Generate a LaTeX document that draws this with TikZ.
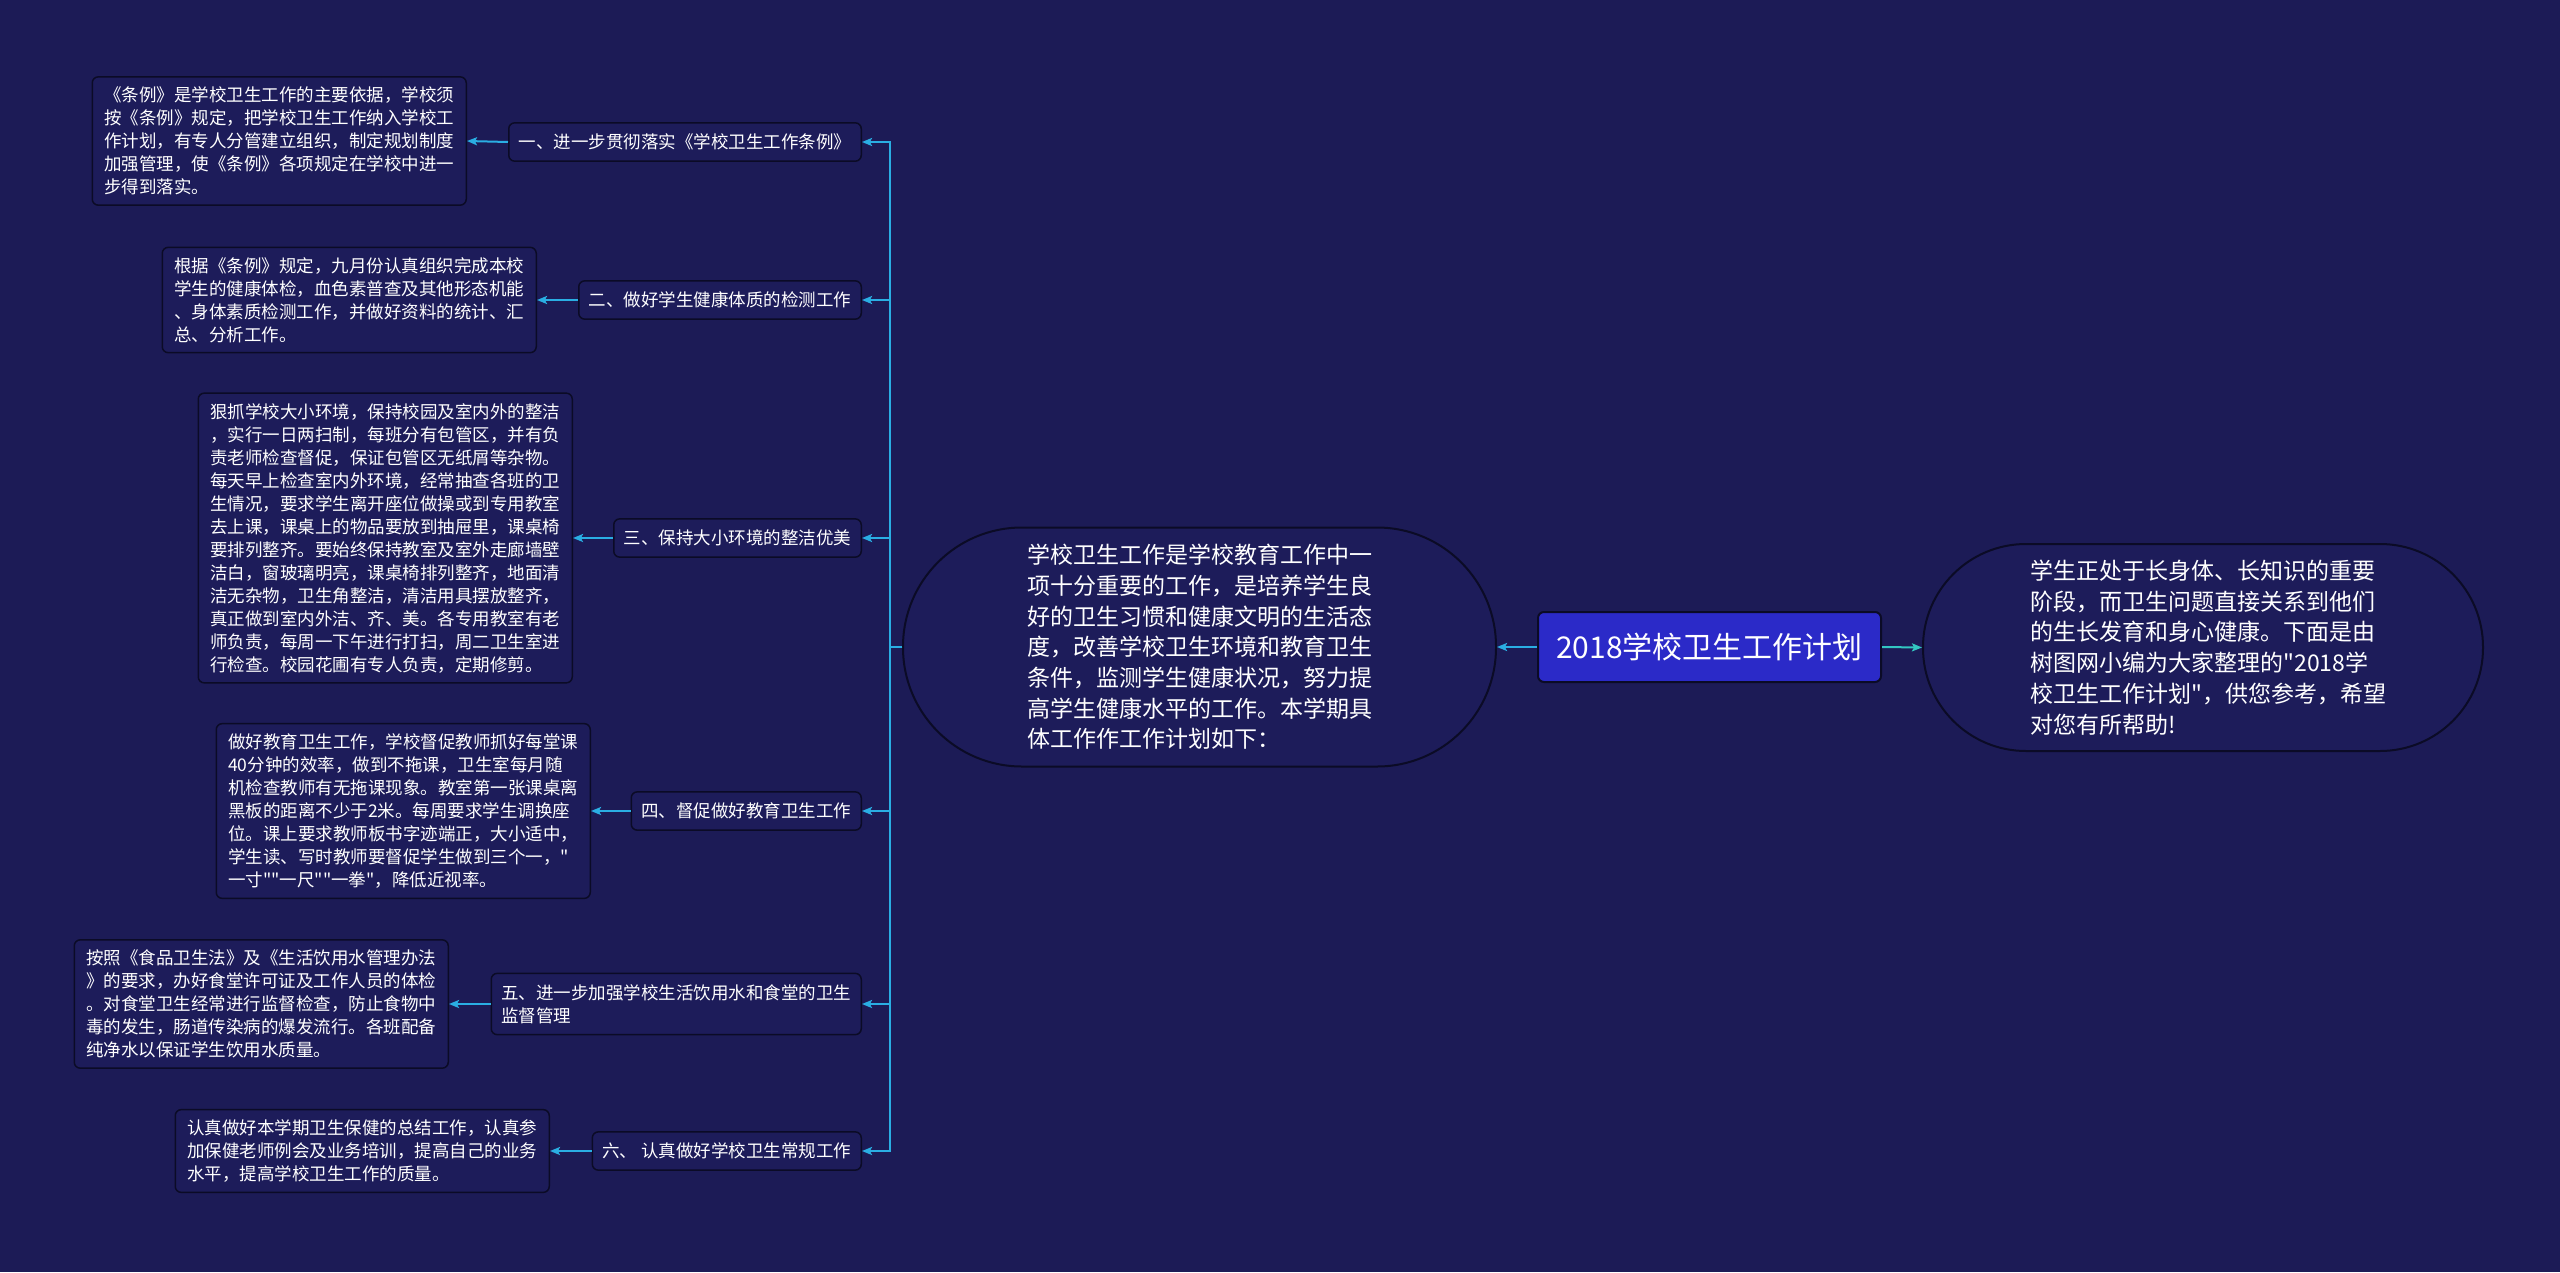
\documentclass[tikz,border=0pt]{standalone}
\usepackage{fontspec}
\setmainfont{Noto Sans CJK SC}[Ligatures=TeXOff]
\usetikzlibrary{arrows.meta}
\definecolor{bg}{HTML}{1C1B56}
\definecolor{boxfill}{HTML}{1D1C5A}
\definecolor{boxline}{HTML}{0B0B26}
\definecolor{rootfill}{HTML}{2B2AC8}
\definecolor{link}{HTML}{2AAEE3}
\definecolor{link2}{HTML}{33C7C2}
\tikzset{
 detail/.style={draw=boxline, line width=1.5pt, fill=boxfill, rounded corners=6pt, text=white, align=left, text width=350pt, inner xsep=12pt, inner ysep=10pt, font=\fontsize{17.5}{23}\selectfont, anchor=east},
 topic/.style={draw=boxline, line width=1.5pt, fill=boxfill, rounded corners=6pt, text=white, align=left, inner xsep=10pt, inner ysep=11pt, font=\fontsize{17.5}{23}\selectfont, anchor=east},
 conn/.style={draw=link, line width=2pt, -{Stealth[length=10pt,width=8pt,inset=2pt]}},
 stadium/.style={draw=boxline, line width=2pt, fill=boxfill, text=white, align=left, text width=345pt, inner sep=0pt, font=\fontsize{23}{30.7}\selectfont},
 rootbox/.style={draw=boxline, line width=2pt, fill=rootfill, text=white, rounded corners=6pt, minimum width=343pt, minimum height=70pt, inner sep=0pt, font=\fontsize{30}{36}\selectfont},
}
\begin{document}
\begin{tikzpicture}[x=1pt,y=-1pt]
\fill[bg] (0,0) rectangle (2560,1272);
\useasboundingbox (0,0) rectangle (2560,1272);

\node[rootbox] (root) at (1709.5,647) {2018学校卫生工作计划};

\node[stadium, minimum width=593pt, minimum height=239pt, rounded corners=119pt] (center) at (1199.5,647) {学校卫生工作是学校教育工作中一\\项十分重要的工作，是培养学生良\\好的卫生习惯和健康文明的生活态\\度，改善学校卫生环境和教育卫生\\条件，监测学生健康状况，努力提\\高学生健康水平的工作。本学期具\\体工作作工作计划如下：};

\node[stadium, minimum width=560pt, minimum height=207pt, rounded corners=103pt] (right) at (2203,647.5) {学生正处于长身体、长知识的重要\\阶段，而卫生问题直接关系到他们\\的生长发育和身心健康。下面是由\\树图网小编为大家整理的"2018学\\校卫生工作计划"，供您参考，希望\\对您有所帮助!};

\coordinate (j) at (890,647);

\node[topic] (t1) at (862,142) {一、进一步贯彻落实《学校卫生工作条例》};
\node[topic] (t2) at (862,300) {二、做好学生健康体质的检测工作};
\node[topic] (t3) at (862,538) {三、保持大小环境的整洁优美};
\node[topic] (t4) at (862,811) {四、督促做好教育卫生工作};
\node[topic] (t5) at (862,1004) {五、进一步加强学校生活饮用水和食堂的卫生\\监督管理};
\node[topic] (t6) at (862,1151) {六、 认真做好学校卫生常规工作};

\node[detail] (d1) at (467,141) {《条例》是学校卫生工作的主要依据，学校须\\按《条例》规定，把学校卫生工作纳入学校工\\作计划，有专人分管建立组织，制定规划制度\\加强管理，使《条例》各项规定在学校中进一\\步得到落实。};
\node[detail] (d2) at (537,300) {根据《条例》规定，九月份认真组织完成本校\\学生的健康体检，血色素普查及其他形态机能\\、身体素质检测工作，并做好资料的统计、汇\\总、分析工作。};
\node[detail] (d3) at (573,538) {狠抓学校大小环境，保持校园及室内外的整洁\\，实行一日两扫制，每班分有包管区，并有负\\责老师检查督促，保证包管区无纸屑等杂物。\\每天早上检查室内外环境，经常抽查各班的卫\\生情况，要求学生离开座位做操或到专用教室\\去上课，课桌上的物品要放到抽屉里，课桌椅\\要排列整齐。要始终保持教室及室外走廊墙壁\\洁白，窗玻璃明亮，课桌椅排列整齐，地面清\\洁无杂物，卫生角整洁，清洁用具摆放整齐，\\真正做到室内外洁、齐、美。各专用教室有老\\师负责，每周一下午进行打扫，周二卫生室进\\行检查。校园花圃有专人负责，定期修剪。};
\node[detail] (d4) at (591,811) {做好教育卫生工作，学校督促教师抓好每堂课\\40分钟的效率，做到不拖课，卫生室每月随\\机检查教师有无拖课现象。教室第一张课桌离\\黑板的距离不少于2米。每周要求学生调换座\\位。课上要求教师板书字迹端正，大小适中，\\学生读、写时教师要督促学生做到三个一，"\\一寸""一尺""一拳"，降低近视率。};
\node[detail] (d5) at (449,1004) {按照《食品卫生法》及《生活饮用水管理办法\\》的要求，办好食堂许可证及工作人员的体检\\。对食堂卫生经常进行监督检查，防止食物中\\毒的发生，肠道传染病的爆发流行。各班配备\\纯净水以保证学生饮用水质量。};
\node[detail] (d6) at (550,1151) {认真做好本学期卫生保健的总结工作，认真参\\加保健老师例会及业务培训，提高自己的业务\\水平，提高学校卫生工作的质量。};

\draw[conn] (root.west) -- (center.east);
\draw[conn, draw=link2] (root.east) -- (right.west);
\foreach \t in {t1,t2,t3,t4,t5,t6}{
  \draw[conn] (center.west) -- (j) |- (\t.east);
}
\draw[conn] (t1.west) -- (d1.east);
\draw[conn] (t2.west) -- (d2.east);
\draw[conn] (t3.west) -- (d3.east);
\draw[conn] (t4.west) -- (d4.east);
\draw[conn] (t5.west) -- (d5.east);
\draw[conn] (t6.west) -- (d6.east);
\end{tikzpicture}
\end{document}
